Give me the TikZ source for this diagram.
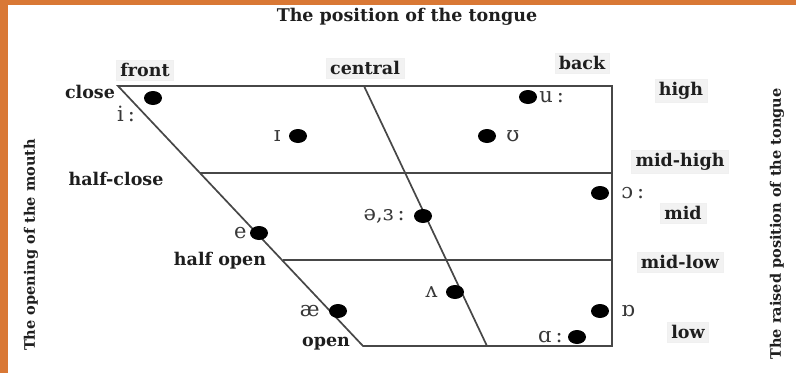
\documentclass[tikz,border=0pt]{standalone}
\usepackage{fontspec}
\setmainfont{DejaVu Serif}
\usetikzlibrary{positioning,shapes.geometric}
\definecolor{rust}{HTML}{D97835}
\definecolor{ink}{HTML}{1E1E1E}
\definecolor{grid}{HTML}{474747}
\definecolor{tag}{HTML}{F2F2F2}
\newcommand{\lng}{\hspace{4pt}:}

\begin{document}
\begin{tikzpicture}[x=1pt,y=-1pt,
  lbl/.style={font=\fontsize{17.5}{19}\selectfont\bfseries,text=ink,inner sep=0pt},
  side/.style={lbl,font=\fontsize{14.5}{16}\selectfont\bfseries,rotate=90},
  tagbox/.style={lbl,fill=tag,draw=black!6,inner xsep=4pt,inner ysep=3pt},
  ipa/.style={font=\fontsize{21}{23}\selectfont,text=black!78,inner sep=0pt},
  dot/.style={ellipse,fill=black,minimum width=18pt,minimum height=14pt,inner sep=0pt},
  chart/.style={draw=grid,line width=1.7pt}]
\useasboundingbox (0,0) rectangle (796,373);
\fill[white] (0,0) rectangle (796,373);
\fill[rust] (0,0) rectangle (796,5);
\fill[rust] (0,0) rectangle (8,373);

% the vowel chart
\coordinate (tl) at (118,86);
\coordinate (tr) at (612,86);
\coordinate (br) at (612,346);
\coordinate (bl) at (363,346);
\coordinate (ct) at (364,86);
\coordinate (cb) at (487,346);
\coordinate (hcl) at (200,173);
\coordinate (hcr) at (612,173);
\coordinate (hol) at (283,260);
\coordinate (hor) at (612,260);
\draw[chart] (tl) -- (tr) -- (br) -- (bl) -- cycle;
\draw[chart] (ct) -- (cb);
\draw[chart] (hcl) -- (hcr);
\draw[chart] (hol) -- (hor);

% headings
\node[lbl] (title) at (407,17) {The position of the tongue};
\node[tagbox] (front) at (145,70) {front};
\node[tagbox] (central) at (365,68) {central};
\node[tagbox] (back) at (582,63) {back};
\node[tagbox] (high) at (681,91) {high};
\node[tagbox] (midhigh) at (680,162) {mid-high};
\node[tagbox] (mid) at (683,213) {mid};
\node[tagbox] (midlow) at (680,262) {mid-low};
\node[tagbox] (low) at (688,332) {low};
\node[lbl] (close) at (90,92) {close};
\node[lbl] (halfclose) at (116,179) {half-close};
\node[lbl] (halfopen) at (220,261) {half open};
\node[lbl] (open) at (326,344) {open};
\node[side] (mouth) at (31,245) {The opening of the mouth};
\node[side] (tongue) at (777,224) {The raised position of the tongue};

% vowels
\node[dot] (i) at (153,98) {};
\node[ipa] (li) at (126,114) {i\lng};
\node[dot] (I) at (298,136) {};
\node[ipa,left=8pt of I] (lI) {ɪ};
\node[dot] (u) at (528,97) {};
\node[ipa,right=2pt of u] (lu) {u\lng};
\node[dot] (U) at (487,136) {};
\node[ipa,right=10pt of U] (lU) {ʊ};
\node[dot] (oo) at (600,193) {};
\node[ipa,right=12pt of oo] (loo) {ɔ\lng};
\node[dot] (schwa) at (423,216) {};
\node[ipa,left=9pt of schwa] (lschwa) {ə,ɜ\lng};
\node[dot] (e) at (259,233) {};
\node[ipa,left=3pt of e] (le) {e};
\node[dot] (ae) at (338,311) {};
\node[ipa,left=9pt of ae] (lae) {æ};
\node[dot] (v) at (455,292) {};
\node[ipa,left=8pt of v] (lv) {ʌ};
\node[dot] (o) at (600,311) {};
\node[ipa,right=12pt of o] (lo) {ɒ};
\node[dot] (a) at (577,337) {};
\node[ipa,left=5pt of a] (la) {ɑ\lng};
\end{tikzpicture}
\end{document}
